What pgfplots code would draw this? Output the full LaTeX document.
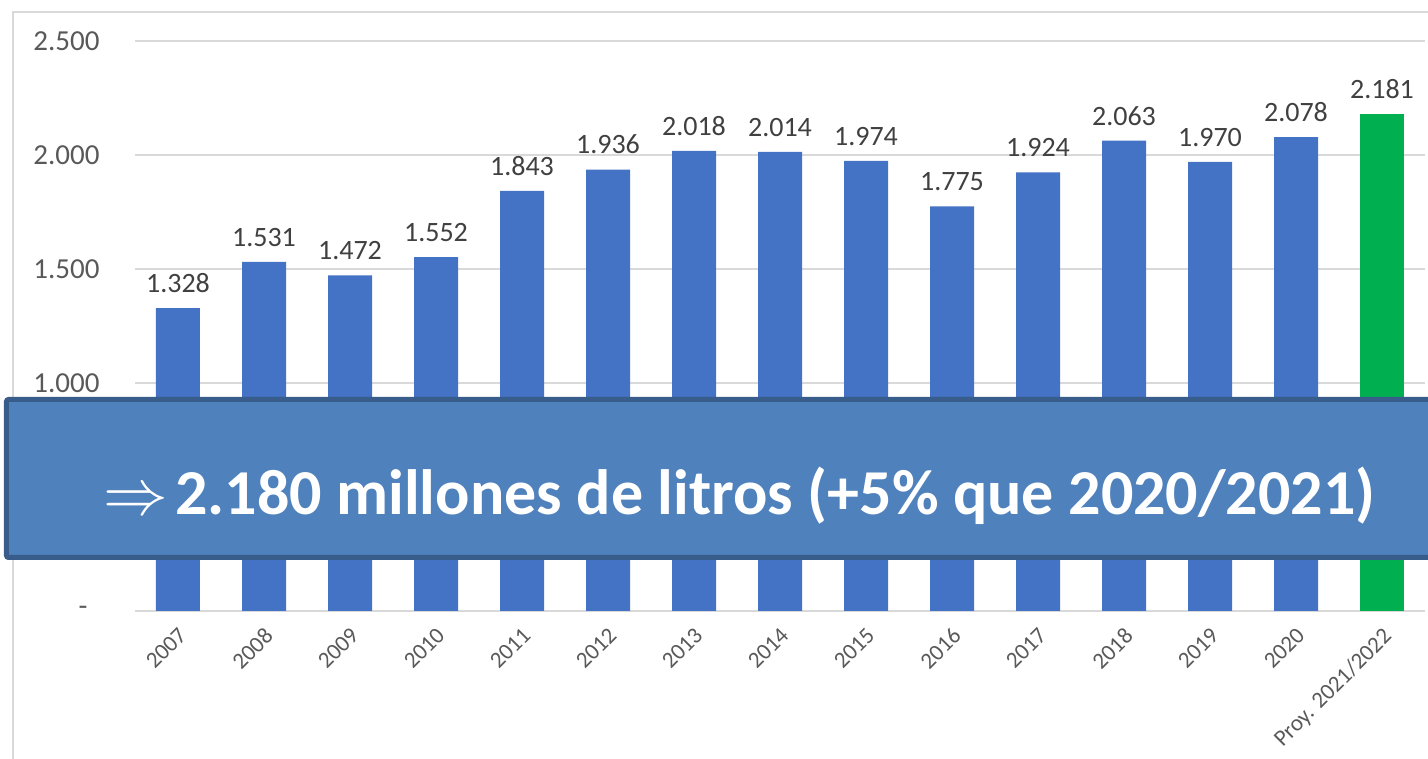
\documentclass[border=0pt]{standalone}
\usepackage{fontspec}
\setmainfont{Carlito}
\usepackage{pgfplots}
\pgfplotsset{compat=1.18}
\definecolor{barblue}{RGB}{68,114,196}
\definecolor{bargreen}{RGB}{0,176,80}
\definecolor{gridc}{RGB}{217,217,217}
\definecolor{tickc}{RGB}{89,89,89}
\definecolor{lblc}{RGB}{64,64,64}
\definecolor{banfill}{RGB}{79,129,189}
\definecolor{bandraw}{RGB}{56,93,138}
\begin{document}
\begin{tikzpicture}
\path[use as bounding box] (-67.5pt,-74pt) rectangle (646.5pt,305.5pt);
\clip (-67.5pt,-74pt) rectangle (646.5pt,305.5pt);
% outer chart frame
\draw[gridc, line width=0.75pt] (-61pt,-90pt) rectangle (700pt,299.5pt);
\begin{axis}[
  at={(0,0)}, anchor=south west, scale only axis,
  width=645pt, height=285pt,
  ybar, bar width=22pt, bar shift=0pt,
  xmin=-0.5, xmax=14.5, ymin=0, ymax=2500,
  axis line style={draw=none},
  major tick length=0pt,
  ymajorgrids, grid style={gridc, line width=0.75pt},
  ytick={0,500,1000,1500,2000,2500},
  yticklabels={{\makebox[10.5pt][l]{-}},500,1.000,1.500,2.000,2.500},
  yticklabel style={anchor=east, inner sep=0pt, xshift=-17.5pt, text=tickc, font=\fontsize{14.5}{14.5}\selectfont},
  xtick={0,...,14},
  xticklabels={2007,2008,2009,2010,2011,2012,2013,2014,2015,2016,2017,2018,2019,2020,Proy. 2021/2022},
  xticklabel style={rotate=45, anchor=north east, inner sep=0pt, yshift=-5pt, xshift=-5.5pt, text=tickc, font=\fontsize{11.5}{11.5}\selectfont},
  nodes near coords, point meta=explicit symbolic,
  every node near coord/.append style={inner sep=0pt, yshift=7.5pt, text=lblc, font=\fontsize{14}{14}\selectfont},
]
\addplot[fill=barblue, draw=none] coordinates {
 (0,1328)[1.328] (1,1531)[1.531] (2,1472)[1.472] (3,1552)[1.552]
 (4,1843)[1.843] (5,1936)[1.936] (6,2018)[2.018] (7,2014)[2.014]
 (8,1974)[1.974] (9,1775)[1.775] (10,1924)[1.924] (11,2063)[2.063]
 (12,1970)[1.970] (13,2078)[2.078]};
\addplot[fill=bargreen, draw=none] coordinates {(14,2181)[2.181]};
\end{axis}
% banner
\draw[fill=banfill, draw=bandraw, line width=2.5pt, rounded corners=1pt] (-64.25pt,26.75pt) rectangle (700pt,105.75pt);
\node[anchor=base west, inner sep=0pt, text=white] at (-16pt,48pt)
  {\scalebox{1.3}{\fontsize{24}{24}\selectfont$\Rightarrow$}\hspace{3.5pt}{\fontsize{32}{32}\selectfont\bfseries 2.180 millones de litros (+5\% que 2020/2021)}};
\end{tikzpicture}
\end{document}
